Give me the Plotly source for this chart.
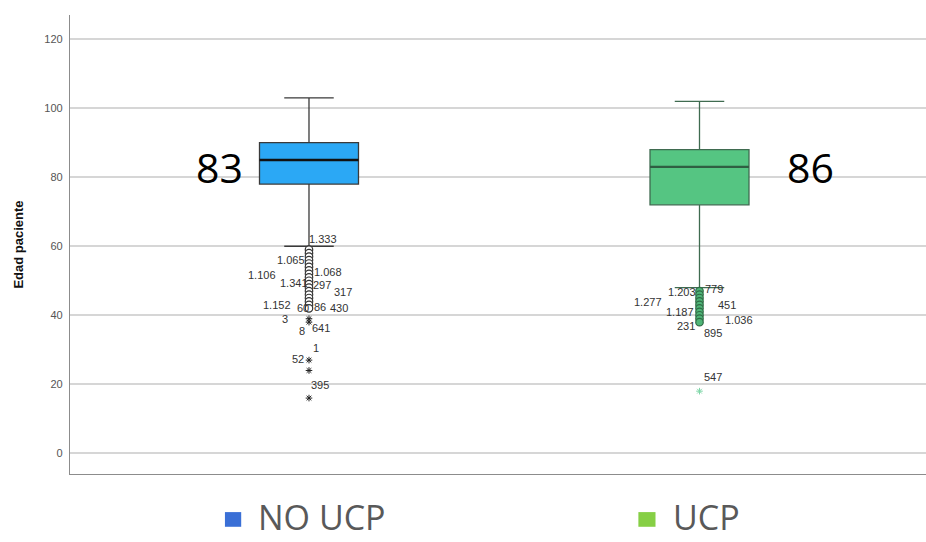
import plotly.graph_objects as go

# ---- data ----
groups = ["NO UCP", "UCP"]
group_x = [0, 1]
q1 = [78, 72]
median = [85, 83]
q3 = [90, 88]
lower_whisker = [60, 48]
upper_whisker = [103, 102]

no_ucp_circles = [59, 58, 57, 56, 55, 54, 53, 52, 51, 50, 49, 48, 47, 46, 45, 44, 43, 42]
no_ucp_stars = [39, 38, 27, 24, 16]
ucp_circles = [47, 46, 45, 44, 43, 42, 41, 40, 39, 38]
ucp_stars = [18]

no_ucp_labels = ["1.333", "1.065", "1.068", "1.106", "1.341", "297", "317", "1.152", "60", "86",
                 "430", "3", "8", "641", "1", "52", "395"]
no_ucp_label_y = [62.1, 56.1, 52.6, 51.7, 49.4, 48.8, 46.8, 43.1, 42.2, 42.5,
                  42.2, 39.0, 35.3, 36.4, 30.6, 27.2, 19.7]
no_ucp_label_dx = [14, -18, 19, -47, -15, 13, 34, -32, -6, 11, 30, -24, -7, 12, 7, -11, 11]

ucp_labels = ["1.203", "779", "1.277", "451", "1.187", "1.036", "231", "895", "547"]
ucp_label_y = [46.8, 47.7, 43.9, 43.1, 41.0, 38.7, 37.0, 35.0, 22.0]
ucp_label_dx = [-18, 14, -52, 27, -20, 39, -14, 13, 13]

big_labels = ["83", "86"]
big_label_dx = [-89, 111]
big_label_y = [83, 83]

y_ticks = [0, 20, 40, 60, 80, 100, 120]

fill_colors = ["#2ba8f5", "#55c582"]
line_colors = ["#3a3a3a", "#3f6b50"]
median_colors = ["#111111", "#2f5e42"]
legend_colors = ["#3a6fd6", "#86cf45"]

box_w = 0.2535

fig = go.Figure()

for i in range(2):
    fig.add_trace(go.Box(
        x=[group_x[i]], q1=[q1[i]], median=[median[i]], q3=[q3[i]],
        lowerfence=[lower_whisker[i]], upperfence=[upper_whisker[i]],
        width=box_w, whiskerwidth=0.5, boxpoints=False,
        fillcolor=fill_colors[i], line=dict(color=line_colors[i], width=1.3),
        showlegend=False, hoverinfo="skip"))
    fig.add_trace(go.Scatter(
        x=[group_x[i] - box_w / 2, group_x[i] + box_w / 2], y=[median[i], median[i]],
        mode="lines", line=dict(color=median_colors[i], width=2.4),
        showlegend=False, hoverinfo="skip"))

# outliers
fig.add_trace(go.Scatter(
    x=[group_x[0]] * len(no_ucp_circles), y=no_ucp_circles, mode="markers",
    marker=dict(symbol="circle", size=7.5, color="white", line=dict(color="#333", width=1.2)),
    showlegend=False, hoverinfo="skip"))
fig.add_trace(go.Scatter(
    x=[group_x[0]] * len(no_ucp_stars), y=no_ucp_stars, mode="markers",
    marker=dict(symbol="asterisk-open", size=5.5, color="#222", line=dict(color="#222", width=1)),
    showlegend=False, hoverinfo="skip"))
fig.add_trace(go.Scatter(
    x=[group_x[1]] * len(ucp_circles), y=ucp_circles, mode="markers",
    marker=dict(symbol="circle", size=7.5, color="#4fb577", line=dict(color="#2f6a45", width=1.2)),
    showlegend=False, hoverinfo="skip"))
fig.add_trace(go.Scatter(
    x=[group_x[1]] * len(ucp_stars), y=ucp_stars, mode="markers",
    marker=dict(symbol="asterisk-open", size=5.5, color="#7fd6a8", line=dict(color="#7fd6a8", width=1)),
    showlegend=False, hoverinfo="skip"))

ann = []
for t, yv, dx in zip(no_ucp_labels, no_ucp_label_y, no_ucp_label_dx):
    ann.append(dict(x=group_x[0], y=yv, text=t, xshift=dx, showarrow=False,
                    font=dict(family="Arial", size=11, color="#333")))
for t, yv, dx in zip(ucp_labels, ucp_label_y, ucp_label_dx):
    ann.append(dict(x=group_x[1], y=yv, text=t, xshift=dx, showarrow=False,
                    font=dict(family="Arial", size=11, color="#333")))
for i in range(2):
    ann.append(dict(x=group_x[i], y=big_label_y[i], text=big_labels[i], xshift=big_label_dx[i],
                    showarrow=False, font=dict(family="Open Sans", size=41, color="#000")))

# legend-like labels below the plot
legend_text_x = [0.2185, 0.703]
legend_sq_x = [(0.181, 0.200), (0.664, 0.684)]
for i in range(2):
    ann.append(dict(xref="paper", yref="paper", x=legend_text_x[i], y=-0.145,
                    xanchor="left", yanchor="bottom", text=groups[i], showarrow=False,
                    borderpad=0, font=dict(family="Open Sans", size=34, color="#595959")))

shapes = []
for i in range(2):
    shapes.append(dict(type="rect", xref="paper", yref="paper",
                       x0=legend_sq_x[i][0], x1=legend_sq_x[i][1], y0=-0.115, y1=-0.083,
                       fillcolor=legend_colors[i], line=dict(width=0)))

fig.update_layout(
    width=926, height=542,
    margin=dict(l=70, r=0, t=15, b=68, autoexpand=False),
    paper_bgcolor="white", plot_bgcolor="white",
    annotations=ann, shapes=shapes,
    xaxis=dict(range=[-0.612, 1.58], showticklabels=False, showgrid=False, zeroline=False,
               showline=True, linecolor="#8c8c8c", linewidth=1.2, ticks=""),
    yaxis=dict(range=[-6, 127], tickvals=y_ticks, showgrid=True, gridcolor="#d6d6d6",
               gridwidth=1.5, zeroline=False, showline=True, linecolor="#8c8c8c",
               linewidth=1.2, ticks="", ticklabelstandoff=4,
               tickfont=dict(family="Arial", size=11, color="#555"),
               title=dict(text="<b>Edad paciente</b>", standoff=17,
                          font=dict(family="Arial", size=13, color="#111"))),
)

fig.write_html("out.html", config={"displayModeBar": False},
               post_script="document.body.style.margin='0';document.body.style.overflow='hidden';")
